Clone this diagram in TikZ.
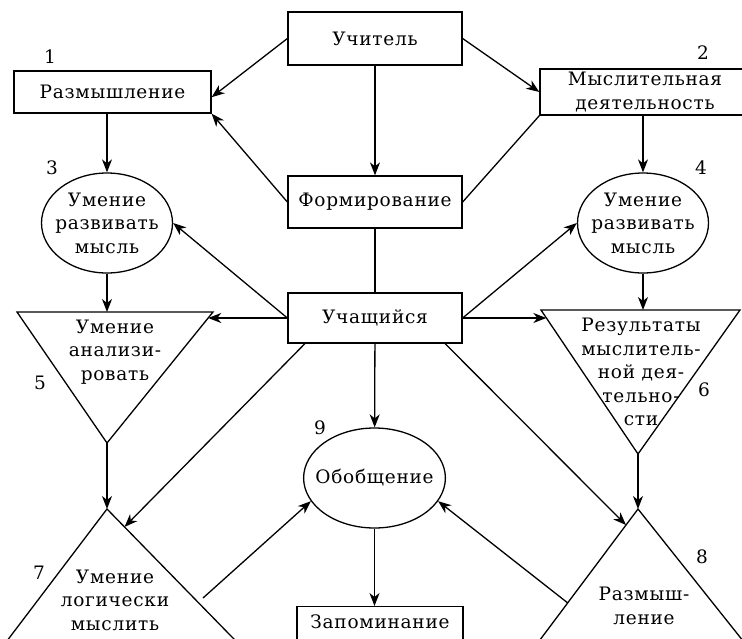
\documentclass[tikz,border=0pt]{standalone}
\usepackage{fontspec}
\setmainfont{DejaVu Serif}[LetterSpace=4]
\usepackage{tikz}
\usetikzlibrary{arrows.meta}
\usetikzlibrary{calc}
\usetikzlibrary{shapes.geometric}

\begin{document}
\begin{tikzpicture}[x=1pt, y=-1pt, line width=1.3pt,
    every node/.style={font=\fontsize{18.5}{23.5}\selectfont},
    box/.style={draw, inner sep=0pt, align=center},
    oval/.style={draw, ellipse, inner xsep=-9pt, inner ysep=0pt,
      align=center, minimum width=131pt, minimum height=100pt},
    tritext/.style={align=center, inner sep=0pt},
    num/.style={inner sep=0pt},
    arr/.style={-{Stealth[length=13pt, width=10pt, inset=4pt]}}]

    \useasboundingbox (0,0) rectangle (742,638);
    \clip (0,0) rectangle (742,638);

    % boxes
    \node [box, minimum width=174pt, minimum height=53pt] (uchitel)
    at (375,38.5) {Учитель};
    \node [box, minimum width=197pt, minimum height=42pt] (razm)
    at (112.5,92) {Размышление};
    \node [box, minimum width=210pt, minimum height=46pt] (mysl)
    at (645,92) {Мыслительная\\деятельность};
    \node [box, minimum width=174pt, minimum height=52pt] (formir)
    at (375,202) {Формирование};
    \node [box, minimum width=174pt, minimum height=50pt] (uchasch)
    at (375,318) {Учащийся};
    \node [box, anchor=north, minimum width=166pt, inner ysep=9pt,
      text height=13pt, text depth=30pt] (zapom)
    at (380,606) {Запоминание};

    % ovals
    \node [oval] (ell3) at (107,223) {Умение\\развивать\\мысль};
    \node [oval] (ell4) at (643,223) {Умение\\развивать\\мысль};
    \node [oval, minimum width=133pt] (ell9) at (374.5,478) {Обобщение};

    % triangles
    \coordinate (t5l) at (17,312);
    \coordinate (t5r) at (213,312);
    \coordinate (t5s) at (107,443);
    \draw (t5l) -- (t5r) -- (t5s) -- cycle;

    \coordinate (t6l) at (541,310);
    \coordinate (t6r) at (740,310);
    \coordinate (t6s) at (638,454);
    \draw (t6l) -- (t6r) -- (t6s) -- cycle;

    \coordinate (t7n) at (107,509);
    \coordinate (t7l) at (-53,720);
    \coordinate (t7r) at (313,720);
    \draw (t7n) -- (t7r) -- (t7l) -- cycle;

    \coordinate (t8n) at (638,509);
    \coordinate (t8l) at (480,720);
    \coordinate (t8r) at (806,720);
    \draw (t8n) -- (t8r) -- (t8l) -- cycle;

    \node [tritext] (tri5) at (115,352) {Умение\\анализи-\\ровать};
    \node [tritext] (tri6) at (641,372)
    {Результаты\\мыслитель-\\ной дея-\\тельно-\\сти};
    \node [tritext] (tri7) at (115,600) {Умение\\логически\\мыслить};
    \node [tritext] (tri8) at (644,606) {Размыш-\\ление};

    % numbers
    \node [num] (n1) at (50,57) {1};
    \node [num] (n2) at (703,53) {2};
    \node [num] (n3) at (52,168) {3};
    \node [num] (n4) at (701,168) {4};
    \node [num] (n5) at (40,383) {5};
    \node [num] (n6) at (704,390) {6};
    \node [num] (n7) at (39,573) {7};
    \node [num] (n8) at (702,557) {8};
    \node [num] (n9) at (320,428) {9};

    % points on the triangles
    \coordinate (t5n) at (107,312);
    \coordinate (t5e) at ($(t5r)!0.045!(t5s)$);
    \coordinate (t6n) at (643,310);
    \coordinate (t6w) at ($(t6l)!0.055!(t6s)$);
    \coordinate (t7e) at ($(t7n)!0.085!(t7r)$);
    \coordinate (t7out) at (203,598);
    \coordinate (t8w) at ($(t8n)!0.076!(t8l)$);
    \coordinate (t8out) at ($(t8n)!0.445!(t8l)$);
    \coordinate (us1) at ($(uchasch.south west)!0.1!(uchasch.south east)$);
    \coordinate (us2) at ($(uchasch.south west)!0.9!(uchasch.south east)$);

    % connectors
    \draw [arr] (uchitel.west) -- (razm.-3);
    \draw [arr] (uchitel.east) -- (mysl.west);
    \draw [arr] (uchitel) -- (formir);
    \draw [arr] (formir.west) -- (razm.south east);
    \draw (formir.east) -- (mysl.south west);
    \draw (formir) -- (uchasch);

    \draw [arr] (razm.south -| ell3.north) -- (ell3.north);
    \draw [arr] (ell3.south) -- (t5n);
    \draw [arr] (mysl.south -| ell4.north) -- (ell4.north);
    \draw [arr] (ell4.south) -- (t6n);

    \draw [arr] (uchasch.west) -- (ell3.east);
    \draw [arr] (uchasch.west) -- (uchasch.west -| t5e);
    \draw [arr] (uchasch.east) -- (ell4.west);
    \draw [arr] (uchasch.east) -- (uchasch.east -| t6w);

    \draw [arr] (t5s) -- (t7n);
    \draw [arr] (t6s) -- (t8n);
    \draw [arr] (us1) -- (t7e);
    \draw [arr] (us2) -- (t8w);
    \draw [arr] (uchasch) -- (ell9);
    \draw [arr] (ell9.south) -- (ell9.south |- zapom.north);
    \draw [arr] (t7out) -- (ell9.200);
    \draw [arr] (t8out) -- (ell9.-20);

\end{tikzpicture}
\end{document}
